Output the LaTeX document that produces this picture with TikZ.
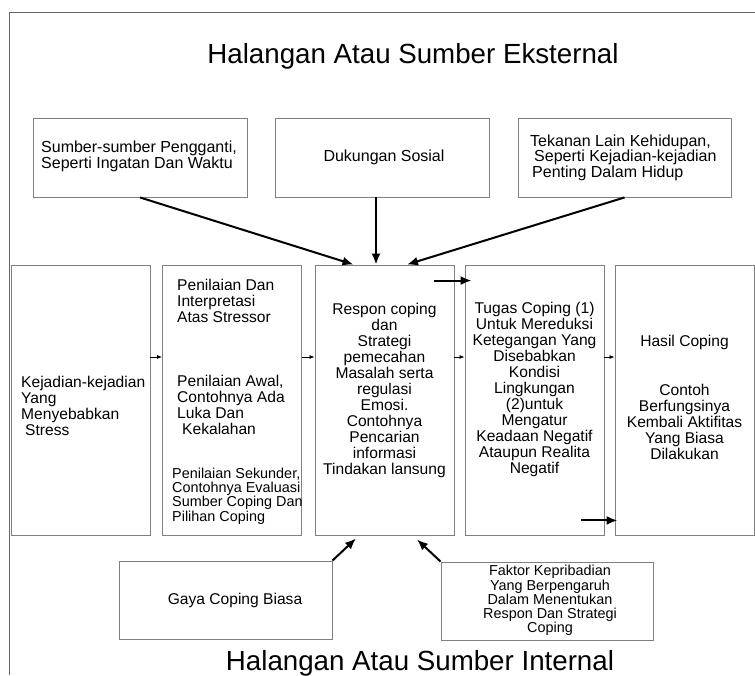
\documentclass[tikz,border=0pt]{standalone}
\usepackage{fontspec}
\setmainfont{Liberation Sans}
\usetikzlibrary{arrows.meta}

\begin{document}
\begin{tikzpicture}[x=1pt, y=-1pt,
    box/.style={draw=black!50, line width=0.9pt, minimum width=#1, minimum height=79pt, inner sep=0pt},
    column/.style={draw=black!50, line width=0.9pt, minimum width=139pt, minimum height=270pt, inner sep=0pt},
    heading/.style={font=\fontsize{27.7}{30}\selectfont, inner sep=0pt, anchor=base},
    toptext/.style={font=\fontsize{16}{15.5}\selectfont, align=left, inner sep=0pt},
    coltext/.style={font=\fontsize{15.6}{16}\selectfont, align=#1, inner sep=0pt},
    smalltext/.style={font=\fontsize{14.4}{14.2}\selectfont, align=#1, inner sep=0pt},
    bigarrow/.style={-{Latex[length=11pt,width=9pt]}, line width=2pt},
    smallarrow/.style={-{Latex[length=5pt,width=4pt]}, line width=0.8pt}]

    \useasboundingbox (0,0) rectangle (755,675);
    \draw[black!60, line width=1pt] (9,675) -- (9,12) -- (755,12);

    \node[heading] (exttitle) at (413,63) {Halangan Atau Sumber Eksternal};
    \node[heading] (inttitle) at (420,670) {Halangan Atau Sumber Internal};

    \node[box=214pt] (pengganti) at (140,157.5) {};
    \node[box=214pt] (dukungan) at (382,157.5) {};
    \node[box=213pt] (tekanan) at (624.5,157.5) {};

    \node[toptext, anchor=west] (penggantitxt) at (41,156.5) {Sumber-sumber Pengganti,\\Seperti Ingatan Dan Waktu};
    \node[toptext] (dukungantxt) at (384,157) {Dukungan Sosial};
    \node[toptext, anchor=west] (tekanantxt) at (530,157.5) {Tekanan Lain Kehidupan,\\\hspace{4pt}Seperti Kejadian-kejadian\\\hspace{2pt}Penting Dalam Hidup};

    \node[column] (kejadian) at (80.5,400) {};
    \node[column] (penilaian) at (232,400) {};
    \node[column] (respon) at (384.5,400) {};
    \node[column] (tugas) at (534.5,400) {};
    \node[column] (hasil) at (684.5,400) {};

    \node[coltext=left, anchor=west] (kejadiantxt) at (21,405.5) {Kejadian-kejadian\\Yang\\Menyebabkan\\\hspace{4pt}Stress};
    \node[coltext=left, anchor=west] (interpretasi) at (177,301) {Penilaian Dan\\Interpretasi\\Atas Stressor};
    \node[coltext=left, anchor=west] (awal) at (177,405) {Penilaian Awal,\\Contohnya Ada\\Luka Dan\\\hspace{5pt}Kekalahan};
    \node[smalltext=left, anchor=west] (sekunder) at (172,496) {Penilaian Sekunder,\\Contohnya Evaluasi\\Sumber Coping Dan\\Pilihan Coping};
    \node[coltext=center] (respontxt) at (384.5,390.5) {Respon coping\\dan\\Strategi\\pemecahan\\Masalah serta\\regulasi\\Emosi.\\Contohnya\\Pencarian\\informasi\\Tindakan lansung};
    \node[coltext=center] (tugastxt) at (534.5,389.5) {Tugas Coping (1)\\Untuk Mereduksi\\Ketegangan Yang\\Disebabkan\\Kondisi\\Lingkungan\\(2)untuk\\Mengatur\\Keadaan Negatif\\Ataupun Realita\\Negatif};
    \node[coltext=center] (hasiltxt) at (684.5,342) {Hasil Coping};
    \node[coltext=center] (contoh) at (684.5,422) {Contoh\\Berfungsinya\\Kembali Aktifitas\\Yang Biasa\\Dilakukan};

    \node[box=213pt, minimum height=78pt] (gaya) at (225.5,600) {};
    \node[box=212pt, minimum height=78pt] (faktor) at (547,601) {};
    \node[coltext=center] (gayatxt) at (235,600) {Gaya Coping Biasa};
    \node[smalltext=center] (faktortxt) at (550,600.5) {Faktor Kepribadian\\Yang Berpengaruh\\Dalam Menentukan\\Respon Dan Strategi\\Coping};

    \draw[bigarrow] (pengganti.south) -- ([xshift=-31pt]respon.north);
    \draw[bigarrow] ([xshift=-6pt]dukungan.south) -- ([xshift=-8.5pt]respon.north);
    \draw[bigarrow] (tekanan.south) -- ([xshift=22.5pt]respon.north);

    \draw[smallarrow] ([yshift=43pt]kejadian.east) -- ([yshift=43pt]penilaian.west);
    \draw[smallarrow] ([yshift=43pt]penilaian.east) -- ([yshift=43pt]respon.west);
    \draw[smallarrow] ([yshift=43pt]respon.east) -- ([yshift=43pt]tugas.west);
    \draw[smallarrow] ([yshift=43pt]tugas.east) -- ([yshift=43pt]hasil.west);

    \coordinate (upstart) at ([xshift=-20pt,yshift=-16pt]respon.north east);
    \coordinate (upend) at ([xshift=7pt,yshift=-16pt]tugas.north west);
    \coordinate (lowstart) at ([xshift=-23pt,yshift=15pt]tugas.south east);
    \coordinate (lowend) at ([xshift=3pt,yshift=15pt]hasil.south west);
    \draw[bigarrow] (upstart) -- (upend);
    \draw[bigarrow] (lowstart) -- (lowend);

    \draw[bigarrow] (gaya.north east) -- ([xshift=-28.5pt,yshift=-3pt]respon.south);
    \draw[bigarrow] (faktor.north west) -- ([xshift=32.5pt,yshift=-4pt]respon.south);

\end{tikzpicture}
\end{document}
